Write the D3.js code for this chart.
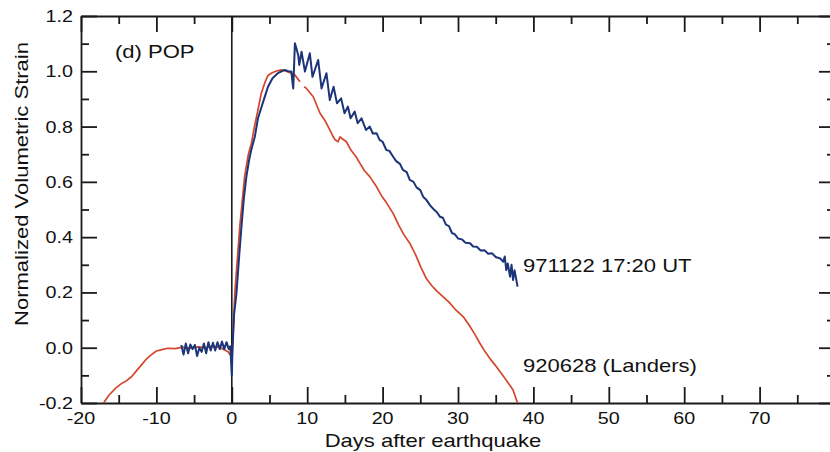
<!DOCTYPE html>
<html>
<head>
<meta charset="utf-8">
<script src="https://cdn.jsdelivr.net/npm/d3@7"></script>
<style>
  body { margin: 0; background: #fff; }
  text { font-family: "Liberation Sans", Arial, sans-serif; fill: #111; }
</style>
</head>
<body>
<div id="chart"></div>
<script>
// strain curves: [day, normalized strain]
var landers = [
  [-17.0,-0.2],[-16.3,-0.172],[-15.4,-0.146],[-14.6,-0.129],[-14.0,-0.12],[-13.3,-0.105],
  [-12.6,-0.082],[-12.0,-0.063],[-11.3,-0.04],[-10.7,-0.026],[-10.0,-0.012],[-9.4,-0.008],
  [-8.5,-0.002],[-7.5,-0.003],[-6.5,0.002],[-5.5,-0.002],[-4.5,0.003],[-3.5,0.0],[-2.5,0.005],
  [-1.5,0.0],[-0.5,-0.015],[-0.1,-0.03],[0.0,-0.05],[0.1,0.0],[0.4,0.197],[1.06,0.438],
  [1.7,0.619],[2.2,0.7],[2.6,0.74],[3.0,0.8],[3.47,0.86],[3.9,0.92],[4.36,0.957],[4.8,0.985],
  [5.24,0.993],[5.8,1.0],[6.6,1.005],[7.2,1.0],[7.9,0.993],[8.35,0.987],[9.05,0.962],
  [9.3,null],
  [9.6,0.944],[9.9,0.938],[10.8,0.908],[11.7,0.848],[12.4,0.82],[13.0,0.788],[13.45,0.763],
  [13.7,0.752],[14.1,0.745],[14.35,0.763],[14.6,0.757],[15.2,0.745],[15.8,0.715],[16.5,0.69],
  [17.0,0.667],[17.6,0.64],[18.3,0.619],[19.2,0.582],[19.85,0.55],[20.5,0.525],[21.4,0.486],
  [22.1,0.445],[22.8,0.41],[23.6,0.378],[24.4,0.335],[25.1,0.29],[25.8,0.25],[26.5,0.225],
  [27.2,0.205],[28.0,0.185],[28.8,0.165],[29.6,0.14],[30.7,0.112],[31.4,0.085],[32.2,0.05],
  [32.9,0.016],[33.6,-0.015],[34.4,-0.045],[35.1,-0.069],[35.8,-0.095],[36.6,-0.125],
  [37.3,-0.153],[37.9,-0.2]
];

var ev971122 = [
  [-6.7,0.01],[-6.4,-0.025],[-6.1,0.015],[-5.8,-0.02],[-5.5,0.012],[-5.2,-0.005],[-4.9,0.01],
  [-4.6,-0.03],[-4.3,0.0],[-4.0,-0.015],[-3.7,0.015],[-3.4,-0.02],[-3.1,0.02],[-2.8,-0.01],
  [-2.5,0.018],[-2.2,-0.01],[-1.9,0.02],[-1.6,-0.005],[-1.3,0.022],[-1.0,-0.005],[-0.7,0.02],
  [-0.4,-0.005],[-0.2,0.005],[0.0,-0.1],[0.1,0.0],[0.3,0.12],[0.62,0.197],[1.0,0.34],
  [1.28,0.438],[1.6,0.54],[1.94,0.62],[2.3,0.68],[2.58,0.715],[3.05,0.763],[3.47,0.83],
  [3.93,0.87],[4.4,0.91],[4.8,0.944],[5.4,0.975],[6.1,0.993],[6.6,1.0],[7.0,1.005],[7.5,1.0],
  [7.9,0.999],[8.05,0.96],[8.15,0.938],[8.37,1.101],[8.6,1.08],[8.8,1.059],[8.95,1.023],
  [9.25,1.071],[9.7,0.999],[10.35,1.065],[10.7,0.98],[11.45,1.041],[11.9,0.938],[12.55,0.993],
  [13.0,0.896],[13.5,0.944],[13.95,0.884],[14.5,0.902],[14.95,0.848],[15.4,0.872],[15.75,0.83],
  [16.3,0.854],[16.7,0.812],[17.2,0.83],[17.8,0.788],[18.3,0.80],[18.7,0.775],[19.2,0.776],
  [19.6,0.752],[20.0,0.745],[20.5,0.715],[20.9,0.712],[21.4,0.691],[21.8,0.675],[22.3,0.665],
  [22.7,0.643],[23.2,0.635],[23.6,0.607],[24.1,0.6],[24.5,0.58],[25.0,0.57],[25.4,0.545],
  [25.8,0.535],[26.3,0.515],[26.8,0.5],[27.2,0.49],[27.6,0.474],[28.0,0.47],[28.4,0.445],
  [28.8,0.44],[29.2,0.415],[29.6,0.41],[30.0,0.395],[30.5,0.392],[31.0,0.38],[31.6,0.378],
  [32.0,0.366],[32.5,0.365],[33.0,0.352],[33.5,0.353],[34.0,0.34],[34.5,0.342],[35.0,0.328],
  [35.6,0.323],[36.0,0.311],[36.2,0.33],[36.4,0.281],[36.6,0.305],[36.9,0.257],[37.1,0.30],
  [37.3,0.245],[37.5,0.28],[37.9,0.221]
];

var xTicks = [-20,-10,0,10,20,30,40,50,60,70];
var yTicks = [-0.2,0.0,0.2,0.4,0.6,0.8,1.0,1.2];

var width = 830, height = 452;
var svg = d3.select("div#chart").append("svg")
    .attr("width", width).attr("height", height);

var x = d3.scaleLinear().domain([-20, 80]).range([81, 835]);
var y = d3.scaleLinear().domain([-0.2, 1.2]).range([403, 16]);

var stroke = "#1a1a1a";
var major = 16, minor = 8;

// inward ticks on all four sides
var xMinor = d3.range(-20, 81, 5), yMinor = d3.range(-2, 13).map((d) => d / 10);
function isMajorX(d) { return Math.round(d) % 10 === 0; }
function isMajorY(d) { return Math.round(d * 10) % 2 === 0; }

svg.append("g").call(d3.axisBottom(x).tickValues(xMinor).tickFormat("")
    .tickSizeOuter(0).tickSizeInner(0))
  .attr("transform", "translate(0," + y(-0.2) + ")")
  .call((g) => g.selectAll(".tick line").attr("y2", (d) => isMajorX(d) ? -major : -minor));
svg.append("g").call(d3.axisTop(x).tickValues(xMinor).tickFormat("")
    .tickSizeOuter(0).tickSizeInner(0))
  .attr("transform", "translate(0," + y(1.2) + ")")
  .call((g) => g.selectAll(".tick line").attr("y2", (d) => isMajorX(d) ? major : minor));
svg.append("g").call(d3.axisLeft(y).tickValues(yMinor).tickFormat("")
    .tickSizeOuter(0).tickSizeInner(0))
  .attr("transform", "translate(" + x(-20) + ",0)")
  .call((g) => g.selectAll(".tick line").attr("x2", (d) => isMajorY(d) ? major : minor));
svg.append("g").call(d3.axisRight(y).tickValues(yMinor).tickFormat("")
    .tickSizeOuter(0).tickSizeInner(0))
  .attr("transform", "translate(" + x(80) + ",0)")
  .call((g) => g.selectAll(".tick line").attr("x2", (d) => isMajorY(d) ? -major : -minor));

svg.selectAll(".domain, .tick line")
  .attr("stroke", stroke).attr("stroke-width", 1.8);

// zero-day line
svg.append("line")
  .attr("x1", x(0)).attr("x2", x(0)).attr("y1", y(1.2)).attr("y2", y(-0.2))
  .attr("stroke", stroke).attr("stroke-width", 1.6);

// stretched text helper (figure lettering is wide)
function label(tx, ty, str, size, anchor, rot) {
  svg.append("text")
    .attr("transform", "translate(" + tx + "," + ty + ")" + (rot ? " rotate(" + rot + ")" : "") + " scale(1.16,1)")
    .attr("font-size", size)
    .attr("text-anchor", anchor || "start")
    .text(str);
}

// plain hyphen minus, like the original lettering
xTicks.forEach((d) => label(x(d), 424, String(d), 17, "middle"));
yTicks.forEach((d) => label(73, y(d) + 6, d.toFixed(1), 17, "end"));

label(27.5, 184, "Normalized Volumetric Strain", 19, "middle", -90);
label(433, 447, "Days after earthquake", 19, "middle");
label(115, 58, "(d) POP", 19);
label(523, 272, "971122 17:20 UT", 19);
label(523, 372, "920628 (Landers)", 19);

var line = d3.line()
    .defined((d) => d[1] !== null)
    .x((d) => x(d[0])).y((d) => y(d[1]));

svg.append("clipPath").attr("id", "plot")
  .append("rect").attr("x", x(-20)).attr("y", y(1.2))
  .attr("width", x(80) - x(-20)).attr("height", y(-0.2) - y(1.2));

svg.append("path").datum(landers)
  .attr("d", line).attr("fill", "none")
  .attr("clip-path", "url(#plot)")
  .attr("stroke", "#d4462a").attr("stroke-width", 1.7)
  .attr("stroke-linejoin", "round");

svg.append("path").datum(ev971122)
  .attr("d", line).attr("fill", "none")
  .attr("clip-path", "url(#plot)")
  .attr("stroke", "#1c3478").attr("stroke-width", 2)
  .attr("stroke-linejoin", "round");
</script>
</body>
</html>
